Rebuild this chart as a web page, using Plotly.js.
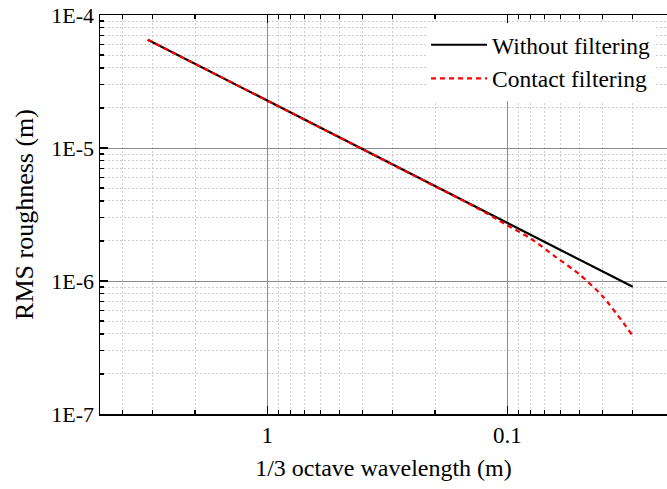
<!DOCTYPE html>
<html>
<head>
<meta charset="utf-8">
<script src="https://cdn.plot.ly/plotly-3.0.1.min.js"></script>
<style>
  html, body { margin: 0; padding: 0; background: #fff; }
  #chart { width: 667px; height: 489px; }
</style>
</head>
<body>
<div id="chart"></div>
<script>
// 1/3 octave band wavelengths (m)
const wavelength = [3.15, 2.5, 2, 1.6, 1.25, 1, 0.8, 0.63, 0.5, 0.4, 0.315,
                    0.25, 0.2, 0.16, 0.125, 0.1, 0.08, 0.063, 0.05, 0.04, 0.03];

// RMS roughness per band (m), raw spectrum
const rmsWithout = [6.52e-5, 5.27e-5, 4.29e-5, 3.50e-5, 2.79e-5, 2.27e-5, 1.85e-5,
                    1.48e-5, 1.20e-5, 9.76e-6, 7.83e-6, 6.33e-6, 5.15e-6, 4.20e-6,
                    3.35e-6, 2.72e-6, 2.22e-6, 1.78e-6, 1.44e-6, 1.17e-6, 9.04e-7];

// RMS roughness per band (m), after contact filtering
const rmsContact = [6.52e-5, 5.27e-5, 4.29e-5, 3.50e-5, 2.79e-5, 2.27e-5, 1.85e-5,
                    1.48e-5, 1.20e-5, 9.76e-6, 7.83e-6, 6.33e-6, 5.15e-6, 4.20e-6,
                    3.31e-6, 2.62e-6, 2.09e-6, 1.52e-6, 1.12e-6, 7.64e-7, 3.88e-7];

const seriesNames = ['Without filtering', 'Contact filtering'];

const xTickVals = [1, 0.1];
const xTickText = ['1', '0.1'];
const yTickVals = [1e-4, 1e-5, 1e-6, 1e-7];
const yTickText = ['1E-4', '1E-5', '1E-6', '1E-7'];

const serif = '"Times New Roman", "Liberation Serif", serif';

const traces = [
  {
    x: wavelength, y: rmsWithout, name: seriesNames[0],
    type: 'scatter', mode: 'lines',
    line: { color: '#000000', width: 2.2 }
  },
  {
    x: wavelength, y: rmsContact, name: seriesNames[1],
    type: 'scatter', mode: 'lines',
    line: { color: '#ff0000', width: 2.2, dash: '5px,4px', shape: 'spline', smoothing: 0.8 }
  }
];

const layout = {
  width: 667, height: 489,
  margin: { l: 100, r: 0, t: 15, b: 75 },
  paper_bgcolor: '#ffffff',
  plot_bgcolor: '#ffffff',
  font: { family: serif, size: 22, color: '#000' },
  showlegend: true,
  legend: {
    x: 0.575, y: 0.98, xanchor: 'left', yanchor: 'top',
    bgcolor: '#ffffff', borderwidth: 0,
    font: { family: serif, size: 23.5, color: '#000' },
    itemwidth: 56, tracegroupgap: 0
  },
  xaxis: {
    type: 'log',
    range: [Math.log10(4.98), Math.log10(0.0216)],
    tickvals: xTickVals, ticktext: xTickText,
    ticks: 'inside', ticklen: 8, tickwidth: 1.2, tickcolor: '#000',
    showline: true, linecolor: '#000', linewidth: 1.5, mirror: 'ticks',
    showgrid: true, gridcolor: '#8c8c8c', gridwidth: 1,
    zeroline: false,
    tickfont: { family: serif, size: 23, color: '#000' },
    minor: {
      dtick: 'D1', ticks: 'inside', ticklen: 4, tickcolor: '#000',
      showgrid: true, gridcolor: '#cdcdcd', griddash: '2px,2px', gridwidth: 1
    },
    title: { text: '1/3 octave wavelength (m)', font: { family: serif, size: 24, color: '#000' }, standoff: 12 }
  },
  yaxis: {
    type: 'log',
    range: [-7, -4],
    tickvals: yTickVals, ticktext: yTickText,
    ticks: 'inside', ticklen: 8, tickwidth: 1.2, tickcolor: '#000',
    showline: true, linecolor: '#000', linewidth: 1.5, mirror: false,
    showgrid: true, gridcolor: '#8c8c8c', gridwidth: 1,
    zeroline: false,
    tickfont: { family: serif, size: 22, color: '#000' },
    minor: {
      dtick: 'D1', ticks: 'inside', ticklen: 4, tickcolor: '#000',
      showgrid: true, gridcolor: '#cdcdcd', griddash: '2px,2px', gridwidth: 1
    },
    title: { text: 'RMS roughness (m)', font: { family: serif, size: 26, color: '#000' }, standoff: 10 }
  }
};

Plotly.newPlot('chart', traces, layout, { displayModeBar: false, staticPlot: true });
</script>
</body>
</html>
